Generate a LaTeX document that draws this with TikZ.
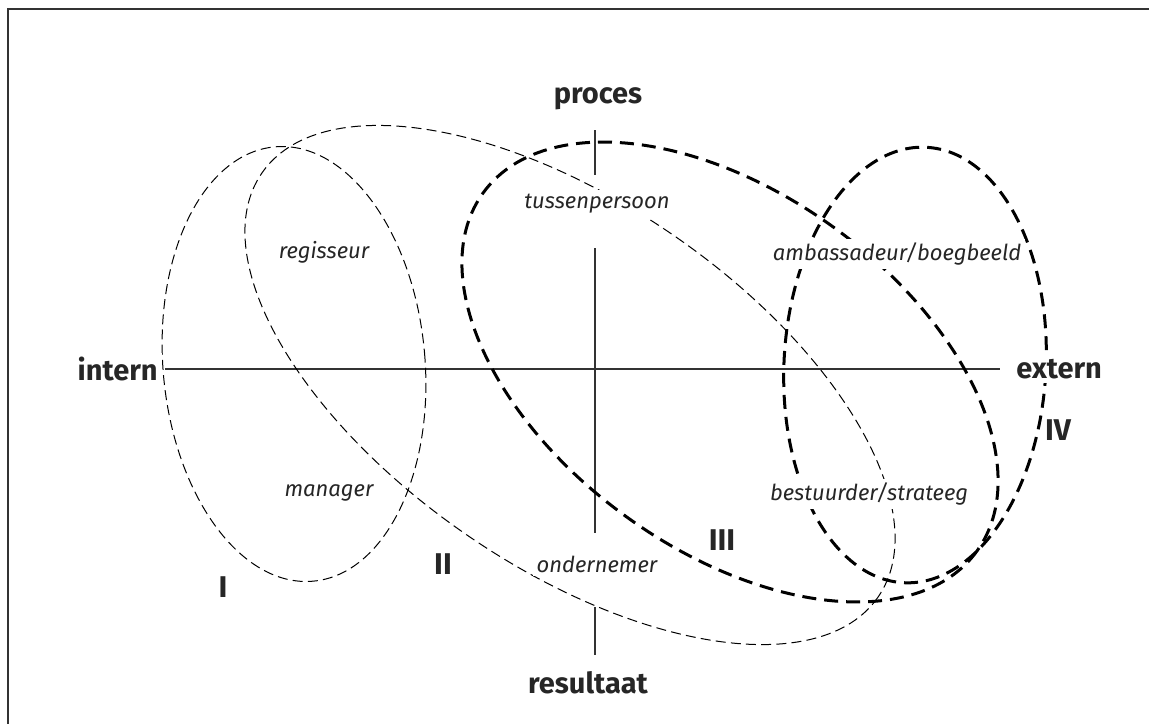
\documentclass[tikz,border=0pt]{standalone}
\usepackage{fontspec}
\setmainfont{Fira Sans}
\usepackage{tikz}

\begin{document}
\begin{tikzpicture}[
    x=0.5pt, y=-0.5pt,
    frame/.style={line width=1pt, black!80},
    axis/.style={line width=0.8pt, black!80},
    thinoval/.style={line width=0.5pt, dash pattern=on 5pt off 2.6pt},
    thickoval/.style={line width=1.5pt, dash pattern=on 7pt off 4pt},
    pole/.style={font=\fontsize{14.5}{17}\selectfont\bfseries, text=black!85,
        fill=white, inner sep=2pt},
    quadrant/.style={font=\fontsize{15}{18}\selectfont\bfseries, text=black!85},
    role/.style={font=\fontsize{11}{13}\selectfont\itshape, text=black!85,
        fill=white, inner sep=2pt}
]

\useasboundingbox (0,0) rectangle (1149,724);

% ---------- Frame ----------
\draw[frame] (1149,9) -- (8,9) -- (8,724);

% ---------- Axes ----------
\draw[axis] (165,369) -- (1000,369);
\draw[axis] (595,130) -- (595,175);
\draw[axis] (595,248) -- (595,533);
\draw[axis] (595,607) -- (595,655);

% ---------- Ovals ----------
% I
\draw[thinoval, rotate around={5:(294,364)}]
    (294,364) ellipse [x radius=131, y radius=218];
% II
\draw[thinoval, rotate around={-34.5:(570,385)}]
    (570,385) ellipse [x radius=374, y radius=182];
% III
\draw[thickoval, rotate around={-36:(730,372)}]
    (730,372) ellipse [x radius=305, y radius=178];
% IV
\draw[thickoval, rotate around={-3:(915,365)}]
    (915,365) ellipse [x radius=131, y radius=218];

% ---------- Axis labels ----------
\node[pole, anchor=base] (proces) at (598,103) {proces};
\node[pole, anchor=base] (resultaat) at (588,693) {resultaat};
\node[pole, anchor=east] (intern) at (162,369) {intern};
\node[pole, anchor=west] (extern) at (1012,369) {extern};

% ---------- Roles ----------
\node[role] (regisseur) at (324,252) {regisseur};
\node[role] (manager) at (329,493) {manager};
\node[role] (tussenpersoon) at (597,204) {tussenpersoon};
\node[role] (ambassadeur) at (897,254) {ambassadeur/boegbeeld};
\node[role] (bestuurder) at (869,494) {bestuurder/strateeg};
\node[role] (ondernemer) at (597,564) {ondernemer};

% ---------- Quadrants ----------
\node[quadrant] (qI) at (223,587) {I};
\node[quadrant] (qII) at (443,564) {II};
\node[quadrant] (qIII) at (722,540) {III};
\node[quadrant] (qIV) at (1058,430) {IV};

\end{tikzpicture}
\end{document}
